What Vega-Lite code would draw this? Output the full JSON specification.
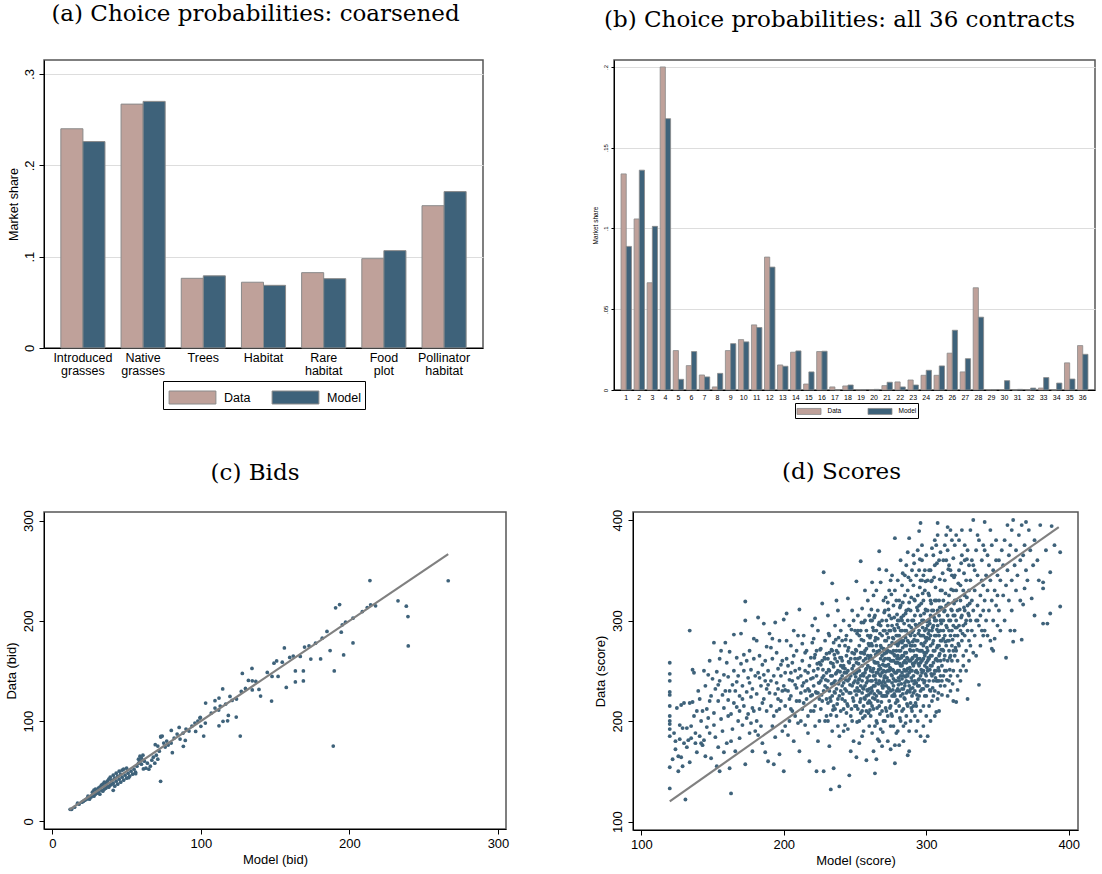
{
"$schema": "https://vega.github.io/schema/vega-lite/v6.json",
"background": "white",
"padding": {"left": 4, "top": 2, "right": 0, "bottom": 0},
"config": {
 "font": "Liberation Sans",
 "view": {"stroke": "#555555", "strokeWidth": 1.5},
 "title": {"font": "DejaVu Serif", "fontSize": 23, "fontWeight": "normal", "color": "#000000", "anchor": "middle", "frame": "group"},
 "axis": {"labelFont": "Liberation Sans", "titleFont": "Liberation Sans", "labelColor": "#000000", "titleColor": "#000000", "titleFontWeight": "normal", "domainColor": "#000000", "tickColor": "#000000", "gridColor": "#dddddd", "labelFlush": false, "labelOverlap": false},
 "legend": {"labelFont": "Liberation Sans", "labelColor": "#000000"}
},
"datasets": {
 "scores": [
{"m":120,"d":258},{"m":120,"d":247},{"m":120,"d":229},{"m":120,"d":226},{"m":120,"d":205},{"m":120,"d":200},{"m":120,"d":197},{"m":120,"d":192},{"m":120,"d":185},{"m":120,"d":154},{"m":120,"d":133},{"m":120,"d":215},{"m":120,"d":240},
{"m":122,"d":162},{"m":124,"d":180},{"m":125,"d":213},{"m":126,"d":150},{"m":126,"d":165},{"m":127,"d":182},{"m":128,"d":216},{"m":128,"d":164},{"m":129,"d":155},{"m":129,"d":193},{"m":130,"d":218},{"m":130,"d":178},{"m":127,"d":196},{"m":124,"d":172},{"m":123,"d":188},
{"m":131,"d":122},{"m":132,"d":193},{"m":133,"d":181},{"m":134,"d":290},{"m":134,"d":159},{"m":134,"d":218},{"m":135,"d":183},{"m":135,"d":195},{"m":136,"d":219},{"m":136,"d":251},{"m":137,"d":248},{"m":137,"d":205},{"m":138,"d":178},{"m":139,"d":169},{"m":139,"d":210},{"m":132,"d":174},{"m":138,"d":188},{"m":140,"d":230},
{"m":141,"d":185},{"m":142,"d":200},{"m":143,"d":176},{"m":144,"d":181},{"m":145,"d":235},{"m":145,"d":165},{"m":146,"d":194},{"m":146,"d":212},{"m":147,"d":203},{"m":147,"d":246},{"m":148,"d":260},{"m":148,"d":188},{"m":149,"d":163},{"m":149,"d":225},{"m":150,"d":242},{"m":141,"d":222},{"m":143,"d":210},{"m":144,"d":250},{"m":148,"d":220},{"m":142,"d":178},
{"m":151,"d":278},{"m":151,"d":208},{"m":152,"d":232},{"m":152,"d":184},{"m":153,"d":155},{"m":153,"d":249},{"m":154,"d":174},{"m":154,"d":220},{"m":155,"d":150},{"m":155,"d":240},{"m":156,"d":270},{"m":156,"d":202},{"m":157,"d":226},{"m":157,"d":190},{"m":158,"d":246},{"m":158,"d":213},{"m":159,"d":278},{"m":159,"d":230},{"m":160,"d":258},{"m":160,"d":178},{"m":151,"d":196},{"m":155,"d":262},{"m":158,"d":169},{"m":154,"d":236},
{"m":161,"d":221},{"m":161,"d":244},{"m":162,"d":153},{"m":162,"d":269},{"m":163,"d":128},{"m":163,"d":207},{"m":164,"d":236},{"m":164,"d":192},{"m":165,"d":250},{"m":165,"d":286},{"m":166,"d":230},{"m":166,"d":170},{"m":167,"d":214},{"m":167,"d":263},{"m":168,"d":200},{"m":168,"d":245},{"m":169,"d":225},{"m":169,"d":183},{"m":170,"d":287},{"m":170,"d":257},{"m":161,"d":205},{"m":163,"d":180},{"m":165,"d":218},{"m":167,"d":239},{"m":169,"d":210},{"m":162,"d":230},
{"m":171,"d":235},{"m":171,"d":196},{"m":172,"d":250},{"m":172,"d":215},{"m":173,"d":319},{"m":173,"d":157},{"m":173,"d":300},{"m":174,"d":229},{"m":174,"d":260},{"m":175,"d":207},{"m":175,"d":243},{"m":176,"d":188},{"m":176,"d":270},{"m":177,"d":224},{"m":177,"d":251},{"m":178,"d":170},{"m":178,"d":232},{"m":179,"d":210},{"m":179,"d":262},{"m":180,"d":245},{"m":180,"d":190},{"m":171,"d":222},{"m":174,"d":203},{"m":176,"d":238},{"m":178,"d":213},{"m":179,"d":282},{"m":177,"d":198},{"m":172,"d":266},
{"m":181,"d":280},{"m":181,"d":227},{"m":182,"d":303},{"m":182,"d":248},{"m":183,"d":212},{"m":183,"d":265},{"m":184,"d":235},{"m":184,"d":195},{"m":185,"d":256},{"m":185,"d":178},{"m":186,"d":297},{"m":186,"d":222},{"m":187,"d":169},{"m":187,"d":240},{"m":188,"d":210},{"m":188,"d":274},{"m":189,"d":160},{"m":189,"d":250},{"m":190,"d":228},{"m":190,"d":287},{"m":181,"d":200},{"m":183,"d":243},{"m":185,"d":218},{"m":187,"d":260},{"m":189,"d":236},{"m":182,"d":186},{"m":186,"d":246},{"m":188,"d":232},
{"m":191,"d":240},{"m":191,"d":215},{"m":192,"d":262},{"m":192,"d":195},{"m":193,"d":157},{"m":193,"d":245},{"m":194,"d":298},{"m":194,"d":227},{"m":195,"d":210},{"m":195,"d":268},{"m":196,"d":232},{"m":196,"d":252},{"m":197,"d":167},{"m":197,"d":280},{"m":198,"d":220},{"m":198,"d":245},{"m":199,"d":190},{"m":199,"d":260},{"m":200,"d":150},{"m":200,"d":235},{"m":200,"d":301},{"m":191,"d":273},{"m":193,"d":205},{"m":195,"d":238},{"m":197,"d":212},{"m":199,"d":230},{"m":192,"d":282},{"m":196,"d":222},{"m":194,"d":184},{"m":198,"d":256},
{"m":201,"d":248},{"m":201,"d":215},{"m":202,"d":307},{"m":202,"d":262},{"m":203,"d":186},{"m":203,"d":230},{"m":204,"d":241},{"m":204,"d":200},{"m":205,"d":275},{"m":205,"d":225},{"m":206,"d":258},{"m":206,"d":210},{"m":207,"d":290},{"m":207,"d":180},{"m":208,"d":236},{"m":208,"d":250},{"m":209,"d":220},{"m":209,"d":270},{"m":210,"d":243},{"m":210,"d":198},{"m":201,"d":231},{"m":203,"d":255},{"m":205,"d":212},{"m":207,"d":265},{"m":209,"d":233},{"m":202,"d":280},{"m":204,"d":222},{"m":206,"d":240},{"m":208,"d":205},{"m":210,"d":285},{"m":201,"d":195},{"m":205,"d":248},
{"m":211,"d":170},{"m":211,"d":311},{"m":212,"d":245},{"m":212,"d":228},{"m":213,"d":260},{"m":213,"d":212},{"m":214,"d":285},{"m":214,"d":238},{"m":215,"d":250},{"m":215,"d":196},{"m":216,"d":270},{"m":216,"d":222},{"m":217,"d":232},{"m":217,"d":188},{"m":218,"d":160},{"m":218,"d":255},{"m":219,"d":242},{"m":219,"d":210},{"m":220,"d":278},{"m":220,"d":226},{"m":211,"d":252},{"m":213,"d":235},{"m":215,"d":268},{"m":217,"d":248},{"m":219,"d":263},{"m":212,"d":200},{"m":214,"d":218},{"m":216,"d":240},{"m":218,"d":230},{"m":220,"d":295},{"m":211,"d":220},{"m":213,"d":277},{"m":215,"d":230},{"m":217,"d":205},{"m":219,"d":225},
{"m":221,"d":250},{"m":221,"d":235},{"m":222,"d":266},{"m":222,"d":215},{"m":223,"d":150},{"m":223,"d":245},{"m":224,"d":290},{"m":224,"d":228},{"m":225,"d":200},{"m":225,"d":258},{"m":226,"d":240},{"m":226,"d":272},{"m":227,"d":317},{"m":227,"d":220},{"m":228,"d":348},{"m":228,"d":150},{"m":229,"d":262},{"m":229,"d":235},{"m":230,"d":248},{"m":230,"d":205},{"m":221,"d":282},{"m":222,"d":195},{"m":223,"d":228},{"m":224,"d":252},{"m":225,"d":238},{"m":226,"d":212},{"m":227,"d":260},{"m":228,"d":230},{"m":229,"d":280},{"m":230,"d":222},{"m":221,"d":210},{"m":223,"d":270},{"m":225,"d":222},{"m":227,"d":243},{"m":229,"d":200},{"m":222,"d":302},{"m":224,"d":180},{"m":226,"d":256},{"m":228,"d":245},{"m":230,"d":267},
{"m":231,"d":240},{"m":231,"d":262},{"m":231,"d":218},{"m":232,"d":250},{"m":232,"d":230},{"m":232,"d":285},{"m":233,"d":206},{"m":233,"d":245},{"m":233,"d":132},{"m":234,"d":337},{"m":234,"d":270},{"m":234,"d":225},{"m":235,"d":254},{"m":235,"d":153},{"m":235,"d":238},{"m":236,"d":212},{"m":236,"d":262},{"m":236,"d":295},{"m":237,"d":320},{"m":237,"d":232},{"m":237,"d":248},{"m":238,"d":195},{"m":238,"d":268},{"m":238,"d":222},{"m":239,"d":135},{"m":239,"d":240},{"m":239,"d":275},{"m":240,"d":255},{"m":240,"d":210},{"m":240,"d":230},{"m":231,"d":200},{"m":232,"d":268},{"m":233,"d":258},{"m":234,"d":190},{"m":235,"d":278},{"m":236,"d":240},{"m":237,"d":205},{"m":238,"d":250},{"m":239,"d":225},{"m":240,"d":290},{"m":231,"d":305},{"m":233,"d":220},{"m":235,"d":215},{"m":237,"d":270},{"m":239,"d":185},{"m":232,"d":175},{"m":234,"d":245},{"m":236,"d":228},{"m":238,"d":310},{"m":240,"d":242},
{"m":241,"d":260},{"m":241,"d":222},{"m":241,"d":245},{"m":242,"d":300},{"m":242,"d":238},{"m":242,"d":212},{"m":243,"d":252},{"m":243,"d":275},{"m":243,"d":196},{"m":244,"d":230},{"m":244,"d":265},{"m":244,"d":248},{"m":245,"d":215},{"m":245,"d":322},{"m":245,"d":240},{"m":246,"d":146},{"m":246,"d":258},{"m":246,"d":228},{"m":247,"d":280},{"m":247,"d":205},{"m":247,"d":245},{"m":248,"d":235},{"m":248,"d":268},{"m":248,"d":310},{"m":249,"d":220},{"m":249,"d":255},{"m":249,"d":180},{"m":250,"d":240},{"m":250,"d":290},{"m":250,"d":262},{"m":241,"d":280},{"m":242,"d":190},{"m":243,"d":232},{"m":244,"d":208},{"m":245,"d":270},{"m":246,"d":295},{"m":247,"d":228},{"m":248,"d":252},{"m":249,"d":238},{"m":250,"d":215},{"m":241,"d":235},{"m":243,"d":220},{"m":245,"d":250},{"m":247,"d":262},{"m":249,"d":300},{"m":242,"d":255},{"m":244,"d":285},{"m":246,"d":242},{"m":248,"d":200},{"m":250,"d":230},{"m":245,"d":192},{"m":247,"d":170},
{"m":251,"d":164},{"m":251,"d":339},{"m":251,"d":248},{"m":251,"d":226},{"m":252,"d":262},{"m":252,"d":238},{"m":252,"d":290},{"m":252,"d":212},{"m":253,"d":275},{"m":253,"d":250},{"m":253,"d":230},{"m":253,"d":200},{"m":254,"d":359},{"m":254,"d":245},{"m":254,"d":268},{"m":254,"d":222},{"m":255,"d":312},{"m":255,"d":240},{"m":255,"d":255},{"m":255,"d":185},{"m":256,"d":280},{"m":256,"d":232},{"m":256,"d":260},{"m":256,"d":215},{"m":257,"d":300},{"m":257,"d":248},{"m":257,"d":270},{"m":257,"d":205},{"m":258,"d":161},{"m":258,"d":238},{"m":258,"d":290},{"m":258,"d":225},{"m":259,"d":255},{"m":259,"d":265},{"m":259,"d":218},{"m":259,"d":320},{"m":260,"d":245},{"m":260,"d":275},{"m":260,"d":232},{"m":260,"d":195},{"m":251,"d":270},{"m":252,"d":230},{"m":253,"d":285},{"m":254,"d":208},{"m":255,"d":228},{"m":256,"d":298},{"m":257,"d":235},{"m":258,"d":252},{"m":259,"d":240},{"m":260,"d":262},{"m":251,"d":215},{"m":252,"d":250},{"m":253,"d":242},{"m":254,"d":290},{"m":255,"d":268},{"m":256,"d":245},{"m":257,"d":222},{"m":258,"d":272},{"m":259,"d":230},{"m":260,"d":305},{"m":253,"d":178},{"m":255,"d":210},{"m":257,"d":330},{"m":259,"d":285},{"m":252,"d":305},{"m":254,"d":235},{"m":256,"d":190},{"m":258,"d":210},{"m":260,"d":220},{"m":251,"d":258},
{"m":261,"d":250},{"m":261,"d":285},{"m":261,"d":228},{"m":261,"d":205},{"m":262,"d":262},{"m":262,"d":240},{"m":262,"d":300},{"m":262,"d":215},{"m":263,"d":270},{"m":263,"d":252},{"m":263,"d":235},{"m":263,"d":325},{"m":264,"d":148},{"m":264,"d":245},{"m":264,"d":280},{"m":264,"d":222},{"m":265,"d":258},{"m":265,"d":290},{"m":265,"d":238},{"m":265,"d":200},{"m":266,"d":268},{"m":266,"d":248},{"m":266,"d":310},{"m":266,"d":230},{"m":267,"d":369},{"m":267,"d":351},{"m":267,"d":255},{"m":267,"d":240},{"m":267,"d":215},{"m":268,"d":275},{"m":268,"d":262},{"m":268,"d":228},{"m":268,"d":295},{"m":269,"d":248},{"m":269,"d":235},{"m":269,"d":285},{"m":269,"d":210},{"m":270,"d":260},{"m":270,"d":240},{"m":270,"d":320},{"m":270,"d":225},{"m":270,"d":272},{"m":261,"d":240},{"m":262,"d":275},{"m":263,"d":212},{"m":264,"d":258},{"m":265,"d":248},{"m":266,"d":282},{"m":267,"d":228},{"m":268,"d":245},{"m":269,"d":265},{"m":270,"d":290},{"m":261,"d":265},{"m":262,"d":230},{"m":263,"d":290},{"m":264,"d":235},{"m":265,"d":275},{"m":266,"d":220},{"m":267,"d":298},{"m":268,"d":252},{"m":269,"d":225},{"m":270,"d":250},{"m":261,"d":300},{"m":263,"d":245},{"m":265,"d":225},{"m":267,"d":270},{"m":269,"d":300},{"m":262,"d":188},{"m":264,"d":195},{"m":266,"d":182},{"m":268,"d":192},{"m":270,"d":200},{"m":263,"d":170},{"m":265,"d":162},{"m":267,"d":180},{"m":269,"d":175},{"m":261,"d":218},{"m":264,"d":305},{"m":266,"d":258},{"m":268,"d":338},{"m":270,"d":235},{"m":262,"d":338},{"m":265,"d":330},
{"m":271,"d":280},{"m":271,"d":245},{"m":271,"d":225},{"m":271,"d":262},{"m":272,"d":300},{"m":272,"d":255},{"m":272,"d":235},{"m":272,"d":210},{"m":273,"d":270},{"m":273,"d":250},{"m":273,"d":180},{"m":273,"d":318},{"m":274,"d":290},{"m":274,"d":240},{"m":274,"d":262},{"m":274,"d":220},{"m":275,"d":230},{"m":275,"d":275},{"m":275,"d":252},{"m":275,"d":340},{"m":276,"d":260},{"m":276,"d":245},{"m":276,"d":295},{"m":276,"d":205},{"m":277,"d":270},{"m":277,"d":235},{"m":277,"d":315},{"m":277,"d":250},{"m":278,"d":158},{"m":278,"d":265},{"m":278,"d":382},{"m":278,"d":225},{"m":279,"d":285},{"m":279,"d":240},{"m":279,"d":258},{"m":279,"d":210},{"m":280,"d":275},{"m":280,"d":250},{"m":280,"d":300},{"m":280,"d":232},{"m":271,"d":290},{"m":272,"d":268},{"m":273,"d":228},{"m":274,"d":305},{"m":275,"d":260},{"m":276,"d":238},{"m":277,"d":282},{"m":278,"d":248},{"m":279,"d":270},{"m":280,"d":220},{"m":271,"d":238},{"m":272,"d":280},{"m":273,"d":262},{"m":274,"d":250},{"m":275,"d":215},{"m":276,"d":278},{"m":277,"d":260},{"m":278,"d":290},{"m":279,"d":230},{"m":280,"d":265},{"m":271,"d":310},{"m":273,"d":295},{"m":275,"d":290},{"m":277,"d":225},{"m":279,"d":320},{"m":272,"d":225},{"m":274,"d":275},{"m":276,"d":225},{"m":278,"d":240},{"m":280,"d":285},{"m":271,"d":200},{"m":273,"d":205},{"m":275,"d":195},{"m":277,"d":195},{"m":279,"d":188},{"m":274,"d":330},{"m":276,"d":345},{"m":278,"d":330},{"m":280,"d":340},{"m":272,"d":350},{"m":275,"d":172},{"m":278,"d":176},{"m":280,"d":190},{"m":271,"d":255},{"m":273,"d":240},{"m":276,"d":268},{"m":279,"d":248},{"m":274,"d":232},{"m":277,"d":242},{"m":280,"d":258},
{"m":281,"d":176},{"m":281,"d":262},{"m":281,"d":240},{"m":281,"d":285},{"m":281,"d":300},{"m":282,"d":255},{"m":282,"d":225},{"m":282,"d":270},{"m":282,"d":315},{"m":283,"d":248},{"m":283,"d":290},{"m":283,"d":232},{"m":283,"d":265},{"m":284,"d":280},{"m":284,"d":245},{"m":284,"d":305},{"m":284,"d":212},{"m":285,"d":260},{"m":285,"d":238},{"m":285,"d":275},{"m":285,"d":325},{"m":286,"d":250},{"m":286,"d":290},{"m":286,"d":228},{"m":286,"d":268},{"m":287,"d":166},{"m":287,"d":280},{"m":287,"d":245},{"m":287,"d":300},{"m":287,"d":368},{"m":288,"d":382},{"m":288,"d":260},{"m":288,"d":235},{"m":288,"d":318},{"m":289,"d":270},{"m":289,"d":250},{"m":289,"d":285},{"m":289,"d":218},{"m":290,"d":262},{"m":290,"d":240},{"m":290,"d":300},{"m":290,"d":275},{"m":281,"d":270},{"m":282,"d":290},{"m":283,"d":210},{"m":284,"d":258},{"m":285,"d":290},{"m":286,"d":240},{"m":287,"d":262},{"m":288,"d":278},{"m":289,"d":232},{"m":290,"d":250},{"m":281,"d":230},{"m":282,"d":245},{"m":283,"d":278},{"m":284,"d":265},{"m":285,"d":250},{"m":286,"d":310},{"m":287,"d":230},{"m":288,"d":295},{"m":289,"d":260},{"m":290,"d":225},{"m":281,"d":320},{"m":283,"d":335},{"m":285,"d":345},{"m":287,"d":330},{"m":289,"d":340},{"m":282,"d":200},{"m":284,"d":195},{"m":286,"d":205},{"m":288,"d":190},{"m":290,"d":210},{"m":281,"d":215},{"m":283,"d":255},{"m":285,"d":222},{"m":287,"d":252},{"m":289,"d":310},{"m":282,"d":280},{"m":284,"d":232},{"m":286,"d":275},{"m":288,"d":248},{"m":290,"d":288},{"m":281,"d":250},{"m":283,"d":300},{"m":285,"d":268},{"m":287,"d":215},{"m":289,"d":200},{"m":282,"d":360},{"m":286,"d":355},{"m":290,"d":350},{"m":284,"d":180},{"m":288,"d":170},{"m":283,"d":242},{"m":286,"d":258},{"m":289,"d":275},{"m":285,"d":235},
{"m":291,"d":270},{"m":291,"d":245},{"m":291,"d":300},{"m":291,"d":228},{"m":292,"d":285},{"m":292,"d":258},{"m":292,"d":240},{"m":292,"d":320},{"m":293,"d":265},{"m":293,"d":250},{"m":293,"d":215},{"m":293,"d":295},{"m":294,"d":280},{"m":294,"d":235},{"m":294,"d":262},{"m":294,"d":310},{"m":295,"d":389},{"m":295,"d":255},{"m":295,"d":290},{"m":295,"d":225},{"m":296,"d":397},{"m":296,"d":270},{"m":296,"d":245},{"m":296,"d":305},{"m":297,"d":260},{"m":297,"d":285},{"m":297,"d":232},{"m":297,"d":340},{"m":298,"d":275},{"m":298,"d":250},{"m":298,"d":300},{"m":298,"d":215},{"m":299,"d":265},{"m":299,"d":240},{"m":299,"d":290},{"m":299,"d":330},{"m":300,"d":258},{"m":300,"d":280},{"m":300,"d":235},{"m":300,"d":310},{"m":291,"d":255},{"m":292,"d":275},{"m":293,"d":280},{"m":294,"d":248},{"m":295,"d":270},{"m":296,"d":285},{"m":297,"d":248},{"m":298,"d":262},{"m":299,"d":278},{"m":300,"d":268},{"m":291,"d":290},{"m":292,"d":230},{"m":293,"d":238},{"m":294,"d":295},{"m":295,"d":242},{"m":296,"d":258},{"m":297,"d":300},{"m":298,"d":232},{"m":299,"d":255},{"m":300,"d":292},{"m":291,"d":335},{"m":293,"d":345},{"m":295,"d":350},{"m":297,"d":360},{"m":299,"d":350},{"m":292,"d":205},{"m":294,"d":200},{"m":296,"d":210},{"m":298,"d":195},{"m":300,"d":205},{"m":291,"d":215},{"m":293,"d":260},{"m":295,"d":315},{"m":297,"d":270},{"m":299,"d":225},{"m":292,"d":305},{"m":294,"d":222},{"m":296,"d":230},{"m":298,"d":320},{"m":300,"d":245},{"m":291,"d":365},{"m":294,"d":370},{"m":297,"d":375},{"m":300,"d":365},{"m":293,"d":190},{"m":296,"d":185},{"m":299,"d":180},{"m":292,"d":265},{"m":295,"d":235},{"m":298,"d":285},{"m":300,"d":225},{"m":294,"d":325},{"m":296,"d":340},{"m":298,"d":345},
{"m":301,"d":185},{"m":301,"d":270},{"m":301,"d":250},{"m":301,"d":295},{"m":302,"d":282},{"m":302,"d":262},{"m":302,"d":240},{"m":302,"d":325},{"m":303,"d":275},{"m":303,"d":255},{"m":303,"d":305},{"m":303,"d":230},{"m":304,"d":290},{"m":304,"d":265},{"m":304,"d":245},{"m":304,"d":340},{"m":305,"d":280},{"m":305,"d":258},{"m":305,"d":310},{"m":305,"d":225},{"m":306,"d":270},{"m":306,"d":300},{"m":306,"d":250},{"m":306,"d":355},{"m":307,"d":209},{"m":307,"d":285},{"m":307,"d":262},{"m":307,"d":320},{"m":308,"d":397},{"m":308,"d":275},{"m":308,"d":295},{"m":308,"d":240},{"m":309,"d":265},{"m":309,"d":305},{"m":309,"d":285},{"m":309,"d":250},{"m":310,"d":280},{"m":310,"d":260},{"m":310,"d":330},{"m":310,"d":300},{"m":301,"d":310},{"m":302,"d":290},{"m":303,"d":285},{"m":304,"d":255},{"m":305,"d":295},{"m":306,"d":285},{"m":307,"d":240},{"m":308,"d":310},{"m":309,"d":275},{"m":310,"d":245},{"m":301,"d":340},{"m":303,"d":350},{"m":305,"d":365},{"m":307,"d":375},{"m":309,"d":360},{"m":302,"d":215},{"m":304,"d":220},{"m":306,"d":230},{"m":308,"d":222},{"m":310,"d":235},{"m":301,"d":235},{"m":303,"d":320},{"m":305,"d":240},{"m":307,"d":300},{"m":309,"d":320},{"m":302,"d":350},{"m":304,"d":372},{"m":306,"d":380},{"m":308,"d":385},{"m":310,"d":368},{"m":301,"d":260},{"m":303,"d":265},{"m":305,"d":270},{"m":307,"d":250},{"m":309,"d":240},{"m":302,"d":300},{"m":304,"d":310},{"m":306,"d":320},{"m":308,"d":260},{"m":310,"d":290},{"m":303,"d":200},{"m":306,"d":205},{"m":309,"d":210},
{"m":311,"d":226},{"m":311,"d":280},{"m":311,"d":300},{"m":311,"d":255},{"m":312,"d":290},{"m":312,"d":270},{"m":312,"d":320},{"m":312,"d":245},{"m":313,"d":310},{"m":313,"d":265},{"m":313,"d":285},{"m":313,"d":340},{"m":314,"d":295},{"m":314,"d":275},{"m":314,"d":250},{"m":314,"d":360},{"m":315,"d":393},{"m":315,"d":305},{"m":315,"d":280},{"m":315,"d":260},{"m":316,"d":290},{"m":316,"d":325},{"m":316,"d":240},{"m":316,"d":270},{"m":317,"d":300},{"m":317,"d":285},{"m":317,"d":350},{"m":317,"d":230},{"m":318,"d":275},{"m":318,"d":310},{"m":318,"d":260},{"m":318,"d":380},{"m":319,"d":295},{"m":319,"d":270},{"m":319,"d":330},{"m":319,"d":250},{"m":320,"d":285},{"m":320,"d":305},{"m":320,"d":265},{"m":320,"d":345},{"m":311,"d":330},{"m":312,"d":360},{"m":313,"d":375},{"m":314,"d":385},{"m":315,"d":370},{"m":316,"d":355},{"m":317,"d":390},{"m":318,"d":345},{"m":319,"d":362},{"m":320,"d":375},{"m":311,"d":240},{"m":313,"d":235},{"m":315,"d":225},{"m":317,"d":245},{"m":319,"d":220},{"m":312,"d":300},{"m":314,"d":315},{"m":316,"d":300},{"m":318,"d":290},{"m":320,"d":320},{"m":321,"d":219},{"m":322,"d":231},{"m":313,"d":250},{"m":317,"d":265},{"m":312,"d":282},{"m":316,"d":280},{"m":319,"d":305},
{"m":321,"d":300},{"m":321,"d":270},{"m":321,"d":330},{"m":322,"d":285},{"m":322,"d":310},{"m":322,"d":260},{"m":323,"d":295},{"m":323,"d":350},{"m":323,"d":275},{"m":324,"d":320},{"m":324,"d":290},{"m":324,"d":250},{"m":325,"d":305},{"m":325,"d":365},{"m":325,"d":280},{"m":326,"d":295},{"m":326,"d":330},{"m":326,"d":265},{"m":327,"d":310},{"m":327,"d":285},{"m":327,"d":375},{"m":328,"d":300},{"m":328,"d":340},{"m":328,"d":270},{"m":329,"d":222},{"m":329,"d":290},{"m":329,"d":315},{"m":330,"d":305},{"m":330,"d":355},{"m":330,"d":280},{"m":321,"d":385},{"m":323,"d":380},{"m":325,"d":390},{"m":327,"d":360},{"m":329,"d":370},{"m":322,"d":245},{"m":324,"d":240},{"m":326,"d":255},{"m":328,"d":250},{"m":330,"d":260},{"m":321,"d":320},{"m":324,"d":335},{"m":327,"d":325},{"m":330,"d":330},
{"m":331,"d":300},{"m":331,"d":340},{"m":331,"d":275},{"m":332,"d":320},{"m":332,"d":290},{"m":333,"d":400},{"m":333,"d":355},{"m":333,"d":310},{"m":334,"d":330},{"m":334,"d":285},{"m":335,"d":300},{"m":335,"d":370},{"m":335,"d":265},{"m":336,"d":315},{"m":336,"d":345},{"m":337,"d":236},{"m":337,"d":295},{"m":337,"d":380},{"m":338,"d":325},{"m":338,"d":305},{"m":339,"d":360},{"m":339,"d":290},{"m":340,"d":335},{"m":340,"d":310},{"m":340,"d":375},{"m":331,"d":390},{"m":333,"d":268},{"m":336,"d":385},{"m":338,"d":275},{"m":340,"d":285},{"m":332,"d":360},{"m":334,"d":350},{"m":336,"d":300},{"m":339,"d":340},
{"m":341,"d":398},{"m":341,"d":320},{"m":341,"d":290},{"m":342,"d":345},{"m":342,"d":300},{"m":343,"d":365},{"m":343,"d":330},{"m":344,"d":310},{"m":344,"d":355},{"m":345,"d":280},{"m":345,"d":340},{"m":346,"d":272},{"m":346,"d":320},{"m":346,"d":375},{"m":347,"d":300},{"m":347,"d":350},{"m":348,"d":282},{"m":348,"d":330},{"m":349,"d":360},{"m":349,"d":315},{"m":350,"d":295},{"m":350,"d":345},{"m":341,"d":370},{"m":343,"d":285},{"m":345,"d":390},{"m":347,"d":270},{"m":349,"d":380},{"m":350,"d":325},
{"m":351,"d":360},{"m":351,"d":310},{"m":352,"d":340},{"m":352,"d":290},{"m":353,"d":370},{"m":354,"d":325},{"m":354,"d":355},{"m":355,"d":300},{"m":355,"d":380},{"m":356,"d":263},{"m":356,"d":335},{"m":357,"d":395},{"m":357,"d":350},{"m":358,"d":320},{"m":358,"d":365},{"m":359,"d":290},{"m":359,"d":375},{"m":360,"d":340},{"m":360,"d":310},{"m":360,"d":390},
{"m":361,"d":400},{"m":361,"d":279},{"m":362,"d":290},{"m":362,"d":355},{"m":363,"d":370},{"m":363,"d":330},{"m":364,"d":345},{"m":365,"d":385},{"m":366,"d":360},{"m":366,"d":320},{"m":367,"d":281},{"m":367,"d":395},{"m":368,"d":316},{"m":368,"d":365},{"m":369,"d":332},{"m":369,"d":375},{"m":370,"d":398},{"m":370,"d":350},
{"m":371,"d":340},{"m":372,"d":390},{"m":373,"d":370},{"m":374,"d":322},{"m":376,"d":305},{"m":376,"d":380},{"m":378,"d":360},{"m":380,"d":395},{"m":382,"d":338},{"m":382,"d":332},{"m":382,"d":297},{"m":384,"d":370},{"m":385,"d":297},{"m":387,"d":307},{"m":387,"d":348},{"m":388,"d":394},{"m":390,"d":375},{"m":394,"d":368},{"m":394,"d":314},{"m":379,"d":340},{"m":375,"d":355},
{"m":240.5,"d":263},{"m":241.5,"d":227},{"m":242.5,"d":248},{"m":243.5,"d":281},{"m":244.5,"d":217},{"m":245.5,"d":259},{"m":246.5,"d":236},{"m":247.5,"d":291},{"m":248.5,"d":223},{"m":249.5,"d":267},{"m":250.5,"d":244},{"m":241.5,"d":253},{"m":243.5,"d":241},{"m":245.5,"d":273},{"m":247.5,"d":212},{"m":249.5,"d":247},
{"m":250.5,"d":271},{"m":251.5,"d":233},{"m":252.5,"d":257},{"m":253.5,"d":219},{"m":254.5,"d":281},{"m":255.5,"d":247},{"m":256.5,"d":223},{"m":257.5,"d":262},{"m":258.5,"d":243},{"m":259.5,"d":277},{"m":260.5,"d":211},{"m":251.5,"d":287},{"m":253.5,"d":263},{"m":255.5,"d":233},{"m":257.5,"d":251},{"m":259.5,"d":226},{"m":252.5,"d":241},{"m":254.5,"d":298},{"m":256.5,"d":267},{"m":258.5,"d":231},{"m":260.5,"d":283},{"m":251.5,"d":199},{"m":255.5,"d":203},{"m":259.5,"d":208},
{"m":260.5,"d":253},{"m":261.5,"d":277},{"m":262.5,"d":223},{"m":263.5,"d":259},{"m":264.5,"d":241},{"m":265.5,"d":269},{"m":266.5,"d":237},{"m":267.5,"d":287},{"m":268.5,"d":219},{"m":269.5,"d":256},{"m":270.5,"d":243},{"m":261.5,"d":233},{"m":262.5,"d":293},{"m":263.5,"d":227},{"m":264.5,"d":266},{"m":265.5,"d":213},{"m":266.5,"d":251},{"m":267.5,"d":246},{"m":268.5,"d":273},{"m":269.5,"d":233},{"m":270.5,"d":308},{"m":261.5,"d":311},{"m":263.5,"d":303},{"m":265.5,"d":198},{"m":267.5,"d":207},{"m":269.5,"d":189},{"m":262.5,"d":249},{"m":264.5,"d":283},{"m":266.5,"d":296},{"m":268.5,"d":238},
{"m":270.5,"d":267},{"m":271.5,"d":249},{"m":272.5,"d":287},{"m":273.5,"d":233},{"m":274.5,"d":269},{"m":275.5,"d":246},{"m":276.5,"d":283},{"m":277.5,"d":227},{"m":278.5,"d":258},{"m":279.5,"d":296},{"m":280.5,"d":243},{"m":271.5,"d":271},{"m":272.5,"d":229},{"m":273.5,"d":256},{"m":274.5,"d":213},{"m":275.5,"d":302},{"m":276.5,"d":251},{"m":277.5,"d":266},{"m":278.5,"d":218},{"m":279.5,"d":262},{"m":280.5,"d":277},{"m":271.5,"d":323},{"m":273.5,"d":311},{"m":275.5,"d":326},{"m":277.5,"d":303},{"m":279.5,"d":306},{"m":272.5,"d":243},{"m":274.5,"d":253},{"m":276.5,"d":231},{"m":278.5,"d":277},{"m":280.5,"d":236},{"m":271.5,"d":213},{"m":275.5,"d":207},{"m":279.5,"d":221},{"m":273.5,"d":283},{"m":277.5,"d":292},
{"m":280.5,"d":293},{"m":281.5,"d":257},{"m":282.5,"d":237},{"m":283.5,"d":273},{"m":284.5,"d":251},{"m":285.5,"d":283},{"m":286.5,"d":263},{"m":287.5,"d":239},{"m":288.5,"d":271},{"m":289.5,"d":293},{"m":290.5,"d":257},{"m":281.5,"d":279},{"m":282.5,"d":303},{"m":283.5,"d":227},{"m":284.5,"d":297},{"m":285.5,"d":244},{"m":286.5,"d":217},{"m":287.5,"d":287},{"m":288.5,"d":253},{"m":289.5,"d":243},{"m":290.5,"d":279},{"m":281.5,"d":313},{"m":283.5,"d":318},{"m":285.5,"d":307},{"m":287.5,"d":311},{"m":289.5,"d":323},{"m":282.5,"d":263},{"m":284.5,"d":223},{"m":286.5,"d":246},{"m":288.5,"d":229},{"m":290.5,"d":233},{"m":281.5,"d":203},{"m":285.5,"d":198},{"m":289.5,"d":213},{"m":283.5,"d":347},{"m":287.5,"d":343},
{"m":290.5,"d":263},{"m":291.5,"d":281},{"m":292.5,"d":249},{"m":293.5,"d":271},{"m":294.5,"d":257},{"m":295.5,"d":297},{"m":296.5,"d":277},{"m":297.5,"d":241},{"m":298.5,"d":268},{"m":299.5,"d":283},{"m":300.5,"d":253},{"m":291.5,"d":237},{"m":292.5,"d":296},{"m":293.5,"d":226},{"m":294.5,"d":287},{"m":295.5,"d":262},{"m":296.5,"d":317},{"m":297.5,"d":293},{"m":298.5,"d":307},{"m":299.5,"d":247},{"m":300.5,"d":299},{"m":291.5,"d":321},{"m":293.5,"d":313},{"m":295.5,"d":333},{"m":297.5,"d":327},{"m":299.5,"d":311},{"m":292.5,"d":218},{"m":294.5,"d":241},{"m":296.5,"d":251},{"m":298.5,"d":238},{"m":300.5,"d":273},{"m":291.5,"d":357},{"m":295.5,"d":361},{"m":299.5,"d":339},
{"m":300.5,"d":283},{"m":301.5,"d":263},{"m":302.5,"d":297},{"m":303.5,"d":247},{"m":304.5,"d":277},{"m":305.5,"d":303},{"m":306.5,"d":261},{"m":307.5,"d":291},{"m":308.5,"d":253},{"m":309.5,"d":313},{"m":310.5,"d":271},{"m":301.5,"d":287},{"m":302.5,"d":251},{"m":303.5,"d":317},{"m":304.5,"d":293},{"m":305.5,"d":247},{"m":306.5,"d":333},{"m":307.5,"d":273},{"m":308.5,"d":289},{"m":309.5,"d":267},{"m":310.5,"d":313},{"m":301.5,"d":327},{"m":303.5,"d":339},{"m":305.5,"d":343},{"m":307.5,"d":357},{"m":309.5,"d":341},{"m":302.5,"d":231},{"m":304.5,"d":233},{"m":306.5,"d":243},{"m":308.5,"d":228},
{"m":310.5,"d":297},{"m":311.5,"d":271},{"m":312.5,"d":309},{"m":313.5,"d":279},{"m":314.5,"d":293},{"m":315.5,"d":317},{"m":316.5,"d":263},{"m":317.5,"d":311},{"m":318.5,"d":281},{"m":319.5,"d":317},{"m":320.5,"d":293},{"m":311.5,"d":347},{"m":313.5,"d":327},{"m":315.5,"d":351},{"m":317.5,"d":331},{"m":319.5,"d":343},{"m":312.5,"d":261},{"m":314.5,"d":241},{"m":316.5,"d":251},{"m":318.5,"d":237},{"m":320.5,"d":273},
{"m":321.5,"d":293},{"m":322.5,"d":277},{"m":323.5,"d":311},{"m":324.5,"d":303},{"m":325.5,"d":287},{"m":326.5,"d":313},{"m":327.5,"d":297},{"m":328.5,"d":323},{"m":329.5,"d":307},{"m":322.5,"d":337},{"m":324.5,"d":357},{"m":326.5,"d":347},{"m":328.5,"d":361},{"m":330.5,"d":317},
{"m":220.5,"d":243},{"m":221.5,"d":263},{"m":222.5,"d":229},{"m":223.5,"d":257},{"m":224.5,"d":238},{"m":225.5,"d":271},{"m":226.5,"d":226},{"m":227.5,"d":251},{"m":228.5,"d":263},{"m":229.5,"d":241},{"m":230.5,"d":233},{"m":231.5,"d":251},{"m":232.5,"d":223},{"m":233.5,"d":271},{"m":234.5,"d":257},{"m":235.5,"d":229},{"m":236.5,"d":281},{"m":237.5,"d":259},{"m":238.5,"d":237},{"m":239.5,"d":263},{"m":231.5,"d":287},{"m":233.5,"d":237},{"m":235.5,"d":266},{"m":237.5,"d":217},{"m":239.5,"d":249},{"m":234.5,"d":211},{"m":236.5,"d":247},{"m":238.5,"d":283}
 ],
 "bids": [
{"m":12,"d":12},{"m":13,"d":12},{"m":15,"d":14},{"m":17,"d":18},{"m":18,"d":17},{"m":20,"d":19},{"m":21,"d":20},{"m":22,"d":21},{"m":23,"d":22},{"m":24,"d":25},{"m":25,"d":22},{"m":26,"d":24},{"m":27,"d":26},{"m":27,"d":29},{"m":28,"d":25},{"m":28,"d":31},{"m":29,"d":27},{"m":29,"d":32},{"m":30,"d":28},{"m":30,"d":30},{"m":31,"d":33},{"m":31,"d":29},{"m":32,"d":27},{"m":32,"d":34},{"m":33,"d":31},{"m":33,"d":36},{"m":34,"d":30},{"m":34,"d":37},{"m":35,"d":32},{"m":35,"d":39},{"m":36,"d":33},{"m":36,"d":38},{"m":37,"d":35},{"m":37,"d":40},{"m":38,"d":34},{"m":38,"d":42},{"m":39,"d":36},{"m":39,"d":44},{"m":40,"d":37},{"m":40,"d":41},{"m":41,"d":38},{"m":41,"d":46},{"m":42,"d":35},{"m":42,"d":43},{"m":43,"d":40},{"m":43,"d":48},{"m":44,"d":37},{"m":44,"d":45},{"m":45,"d":42},{"m":45,"d":50},{"m":46,"d":39},{"m":46,"d":47},{"m":47,"d":44},{"m":47,"d":51},{"m":48,"d":41},{"m":48,"d":52},{"m":49,"d":46},{"m":50,"d":43},{"m":50,"d":53},{"m":51,"d":48},{"m":52,"d":45},{"m":53,"d":50},{"m":54,"d":47},{"m":55,"d":52},{"m":56,"d":49},{"m":57,"d":55},{"m":58,"d":58},{"m":58,"d":62},{"m":59,"d":60},{"m":59,"d":65},{"m":60,"d":63},{"m":60,"d":57},{"m":61,"d":66},{"m":62,"d":60},{"m":63,"d":53},{"m":64,"d":58},{"m":65,"d":52},{"m":66,"d":55},{"m":67,"d":61},{"m":68,"d":64},{"m":69,"d":58},{"m":70,"d":66},{"m":71,"d":75},{"m":71,"d":62},{"m":72,"d":70},{"m":73,"d":84},{"m":74,"d":85},{"m":75,"d":78},{"m":76,"d":74},{"m":77,"d":80},{"m":78,"d":76},{"m":80,"d":78},{"m":82,"d":83},{"m":84,"d":87},{"m":86,"d":82},{"m":88,"d":88},{"m":90,"d":92},{"m":92,"d":90},{"m":94,"d":95},{"m":96,"d":98},{"m":98,"d":100},
{"m":99.4,"d":103},{"m":103,"d":98},{"m":107,"d":108},{"m":109.5,"d":113},{"m":112,"d":111},{"m":113,"d":115},{"m":116.7,"d":117},{"m":119.6,"d":124.6},{"m":121,"d":120.6},{"m":124,"d":122},{"m":127.2,"d":129.6},{"m":130,"d":132.6},{"m":132,"d":140.5},{"m":137,"d":139.5},{"m":144.7,"d":148.5},{"m":149.2,"d":157.8},{"m":151,"d":160},{"m":154.8,"d":158.8},{"m":159.8,"d":163.5},{"m":162.2,"d":164.8},{"m":166.9,"d":164.5},{"m":169.8,"d":173.8},{"m":172.8,"d":175},{"m":177.2,"d":177.7},{"m":181.7,"d":182.7},{"m":184.9,"d":189.4},{"m":195.2,"d":196},{"m":197.4,"d":198.7},{"m":202.4,"d":202.7},{"m":208.7,"d":209.3},{"m":212,"d":213.3},{"m":214.3,"d":216},{"m":217.6,"d":215},
{"m":213.8,"d":240.2},{"m":266.5,"d":240},{"m":232.7,"d":220},{"m":238.3,"d":214.6},{"m":239.4,"d":204.3},{"m":239.6,"d":175},{"m":190.7,"d":213},{"m":193.4,"d":216.3},{"m":194.5,"d":188.7},{"m":202.4,"d":178},{"m":196.1,"d":166},{"m":187,"d":170.4},{"m":180.6,"d":162},{"m":174,"d":161.8},{"m":189.8,"d":150},{"m":189.1,"d":75},{"m":169,"d":150},{"m":169,"d":140},{"m":163.6,"d":150},{"m":163.6,"d":139},{"m":157.5,"d":133.6},{"m":156.2,"d":173},{"m":152,"d":144.5},{"m":147.9,"d":144.5},{"m":147.6,"d":120},{"m":134.4,"d":152.5},{"m":127.9,"d":147.5},{"m":134.6,"d":140.2},{"m":139.1,"d":131.6},{"m":140.2,"d":125},{"m":123.8,"d":104},{"m":126.5,"d":85},{"m":134.6,"d":131},{"m":114.7,"d":132},{"m":112.2,"d":123},{"m":109.5,"d":120.3},{"m":103.2,"d":118},{"m":118.5,"d":105.6},{"m":114.9,"d":99.7},{"m":118,"d":100.3},{"m":112.2,"d":95.3},{"m":101.9,"d":85},{"m":100,"d":94.7},{"m":99.6,"d":103.7},{"m":96.5,"d":89.7},{"m":72.9,"d":39.9},{"m":85.4,"d":93.7},{"m":80.1,"d":90.7},{"m":80.8,"d":68.4},{"m":88.2,"d":74.8},{"m":89.5,"d":80.7},{"m":69.3,"d":76.4},{"m":73,"d":84.7},{"m":56.1,"d":47.5},{"m":61.3,"d":52.2},{"m":51.4,"d":43.5},{"m":41,"d":30.9}
 ]
},
"vconcat": [
 {"hconcat": [
  {
   "title": {"text": "(a) Choice probabilities: coarsened", "offset": 34, "dx": -8},
   "width": 439, "height": 288,
   "data": {"values": [
    {"category": "Introduced grasses", "series": "Data", "share": 0.240},
    {"category": "Introduced grasses", "series": "Model", "share": 0.226},
    {"category": "Native grasses", "series": "Data", "share": 0.267},
    {"category": "Native grasses", "series": "Model", "share": 0.270},
    {"category": "Trees", "series": "Data", "share": 0.0763},
    {"category": "Trees", "series": "Model", "share": 0.079},
    {"category": "Habitat", "series": "Data", "share": 0.072},
    {"category": "Habitat", "series": "Model", "share": 0.0686},
    {"category": "Rare habitat", "series": "Data", "share": 0.0825},
    {"category": "Rare habitat", "series": "Model", "share": 0.0759},
    {"category": "Food plot", "series": "Data", "share": 0.0978},
    {"category": "Food plot", "series": "Model", "share": 0.1066},
    {"category": "Pollinator habitat", "series": "Data", "share": 0.1558},
    {"category": "Pollinator habitat", "series": "Model", "share": 0.1712}
   ]},
   "mark": {"type": "bar", "stroke": "#8a8a8a", "strokeWidth": 1},
   "encoding": {
    "x": {"field": "category", "type": "nominal", "sort": ["Introduced grasses","Native grasses","Trees","Habitat","Rare habitat","Food plot","Pollinator habitat"], "scale": {"paddingInner": 0.267, "paddingOuter": 0.28}, "axis": {"title": null, "labelAngle": 0, "labelExpr": "split(datum.label, ' ')", "ticks": false, "labelFontSize": 12.5, "labelLineHeight": 13.5, "labelPadding": 3, "labelBaseline": "top"}},
    "xOffset": {"field": "series", "type": "nominal", "scale": {"paddingInner": 0, "paddingOuter": 0}},
    "y": {"field": "share", "type": "quantitative", "scale": {"domain": [0, 0.3153], "nice": false}, "axis": {"values": [0, 0.1, 0.2, 0.3], "labelExpr": "datum.value == 0 ? '0' : replace(format(datum.value, '.2~f'), '0.', '.')", "title": "Market share", "titleFontSize": 12.5, "labelFontSize": 13, "labelAngle": 270, "labelPadding": 3, "tickSize": 5, "grid": true, "titlePadding": 3}},
    "color": {"field": "series", "type": "nominal", "scale": {"domain": ["Data", "Model"], "range": ["#bfa19a", "#3e627a"]}, "legend": {"orient": "none", "legendX": 119, "legendY": 321, "direction": "horizontal", "title": null, "strokeColor": "#000000", "fillColor": "#ffffff", "padding": 3, "symbolType": "M-1.8,-0.5H1.8V0.5H-1.8Z", "symbolSize": 676, "symbolStrokeColor": "#8a8a8a", "symbolStrokeWidth": 1, "symbolOpacity": 1, "labelFontSize": 12.5, "labelOffset": 18, "symbolOffset": 13, "columnPadding": 18}}
   }
  },
  {
   "title": {"text": "(b) Choice probabilities: all 36 contracts", "offset": 28, "dx": -15},
   "width": 481, "height": 330,
   "data": {"values": [
    {"contract": 1, "series": "Data", "share": 0.1338},{"contract": 1, "series": "Model", "share": 0.0889},
    {"contract": 2, "series": "Data", "share": 0.1059},{"contract": 2, "series": "Model", "share": 0.1361},
    {"contract": 3, "series": "Data", "share": 0.0664},{"contract": 3, "series": "Model", "share": 0.1013},
    {"contract": 4, "series": "Data", "share": 0.2},{"contract": 4, "series": "Model", "share": 0.168},
    {"contract": 5, "series": "Data", "share": 0.0244},{"contract": 5, "series": "Model", "share": 0.0066},
    {"contract": 6, "series": "Data", "share": 0.0151},{"contract": 6, "series": "Model", "share": 0.0238},
    {"contract": 7, "series": "Data", "share": 0.0093},{"contract": 7, "series": "Model", "share": 0.0081},
    {"contract": 8, "series": "Data", "share": 0.0019},{"contract": 8, "series": "Model", "share": 0.0103},
    {"contract": 9, "series": "Data", "share": 0.0244},{"contract": 9, "series": "Model", "share": 0.0287},
    {"contract": 10, "series": "Data", "share": 0.0312},{"contract": 10, "series": "Model", "share": 0.0298},
    {"contract": 11, "series": "Data", "share": 0.0403},{"contract": 11, "series": "Model", "share": 0.0387},
    {"contract": 12, "series": "Data", "share": 0.0823},{"contract": 12, "series": "Model", "share": 0.0761},
    {"contract": 13, "series": "Data", "share": 0.0155},{"contract": 13, "series": "Model", "share": 0.0147},
    {"contract": 14, "series": "Data", "share": 0.0234},{"contract": 14, "series": "Model", "share": 0.0242},
    {"contract": 15, "series": "Data", "share": 0.0037},{"contract": 15, "series": "Model", "share": 0.0112},
    {"contract": 16, "series": "Data", "share": 0.0238},{"contract": 16, "series": "Model", "share": 0.024},
    {"contract": 17, "series": "Data", "share": 0.0019},{"contract": 17, "series": "Model", "share": 0.0},
    {"contract": 18, "series": "Data", "share": 0.0025},{"contract": 18, "series": "Model", "share": 0.0031},
    {"contract": 19, "series": "Data", "share": 0.0002},{"contract": 19, "series": "Model", "share": 0.0002},
    {"contract": 20, "series": "Data", "share": 0.0001},{"contract": 20, "series": "Model", "share": 0.0004},
    {"contract": 21, "series": "Data", "share": 0.0027},{"contract": 21, "series": "Model", "share": 0.0048},
    {"contract": 22, "series": "Data", "share": 0.005},{"contract": 22, "series": "Model", "share": 0.0019},
    {"contract": 23, "series": "Data", "share": 0.0062},{"contract": 23, "series": "Model", "share": 0.0031},
    {"contract": 24, "series": "Data", "share": 0.0091},{"contract": 24, "series": "Model", "share": 0.0122},
    {"contract": 25, "series": "Data", "share": 0.0091},{"contract": 25, "series": "Model", "share": 0.0149},
    {"contract": 26, "series": "Data", "share": 0.0228},{"contract": 26, "series": "Model", "share": 0.037},
    {"contract": 27, "series": "Data", "share": 0.0112},{"contract": 27, "series": "Model", "share": 0.0194},
    {"contract": 28, "series": "Data", "share": 0.0633},{"contract": 28, "series": "Model", "share": 0.0451},
    {"contract": 29, "series": "Data", "share": 0.0002},{"contract": 29, "series": "Model", "share": 0.0002},
    {"contract": 30, "series": "Data", "share": 0.0002},{"contract": 30, "series": "Model", "share": 0.0058},
    {"contract": 31, "series": "Data", "share": 0.0},{"contract": 31, "series": "Model", "share": 0.0004},
    {"contract": 32, "series": "Data", "share": 0.0},{"contract": 32, "series": "Model", "share": 0.0012},
    {"contract": 33, "series": "Data", "share": 0.0012},{"contract": 33, "series": "Model", "share": 0.0077},
    {"contract": 34, "series": "Data", "share": 0.0},{"contract": 34, "series": "Model", "share": 0.0043},
    {"contract": 35, "series": "Data", "share": 0.0168},{"contract": 35, "series": "Model", "share": 0.0068},
    {"contract": 36, "series": "Data", "share": 0.0275},{"contract": 36, "series": "Model", "share": 0.0221}
   ]},
   "mark": {"type": "bar", "stroke": "#8a8a8a", "strokeWidth": 0.8},
   "encoding": {
    "x": {"field": "contract", "type": "ordinal", "scale": {"paddingInner": 0.2, "paddingOuter": 0.54}, "axis": {"title": null, "labelAngle": 0, "ticks": false, "labelFontSize": 7, "labelPadding": 3}},
    "xOffset": {"field": "series", "type": "nominal", "scale": {"paddingInner": 0, "paddingOuter": 0}},
    "y": {"field": "share", "type": "quantitative", "scale": {"domain": [0, 0.2043], "nice": false}, "axis": {"values": [0, 0.05, 0.1, 0.15, 0.2], "labelExpr": "datum.value == 0 ? '0' : replace(format(datum.value, '.2~f'), '0.', '.')", "title": "Market share", "titleFontSize": 6.5, "labelFontSize": 6, "labelAngle": 270, "labelPadding": 3, "tickSize": 3, "grid": true, "titlePadding": 4}},
    "color": {"field": "series", "type": "nominal", "scale": {"domain": ["Data", "Model"], "range": ["#bfa19a", "#3e627a"]}, "legend": {"orient": "none", "legendX": 181, "legendY": 343, "direction": "horizontal", "title": null, "strokeColor": "#000000", "fillColor": "#ffffff", "padding": 1.5, "symbolType": "M-2,-0.5H2V0.5H-2Z", "symbolSize": 144, "symbolStrokeColor": "#8a8a8a", "symbolStrokeWidth": 0.8, "symbolOpacity": 1, "labelFontSize": 6.5, "labelOffset": 12, "symbolOffset": 6, "columnPadding": 24}}
   }
  }
 ], "spacing": 107,
 "resolve": {"scale": {"color": "independent", "xOffset": "independent"}, "legend": {"color": "independent"}}},
 {"hconcat": [
  {
   "title": {"text": "(c) Bids", "offset": 25, "dx": -20},
   "width": 462, "height": 317,
   "layer": [
    {"data": {"name": "bids"}, "mark": {"type": "circle", "size": 14, "color": "#3e627a", "opacity": 1},
     "encoding": {
      "x": {"field": "m", "type": "quantitative", "scale": {"domain": [-5.6, 305.4], "nice": false, "zero": false}, "axis": {"values": [0, 100, 200, 300], "title": "Model (bid)", "titleFontSize": 13, "labelFontSize": 13, "tickSize": 5, "grid": false, "labelPadding": 3, "titlePadding": 3}},
      "y": {"field": "d", "type": "quantitative", "scale": {"domain": [-7.7, 308.6], "nice": false, "zero": false}, "axis": {"values": [0, 100, 200, 300], "title": "Data (bid)", "titleFontSize": 13, "labelFontSize": 13, "labelAngle": 270, "tickSize": 5, "grid": false, "labelPadding": 4, "titlePadding": 4}}
     }},
    {"data": {"values": [{"m": 11.5, "d": 11.5}, {"m": 266.5, "d": 266.5}]}, "mark": {"type": "line", "color": "#808080", "strokeWidth": 2.2},
     "encoding": {"x": {"field": "m", "type": "quantitative"}, "y": {"field": "d", "type": "quantitative"}}}
   ]
  },
  {
   "title": {"text": "(d) Scores", "offset": 25, "dx": -14},
   "width": 445, "height": 318,
   "layer": [
    {"data": {"name": "scores"}, "mark": {"type": "circle", "size": 15, "color": "#3e627a", "opacity": 1},
     "encoding": {
      "x": {"field": "m", "type": "quantitative", "scale": {"domain": [94.2, 406.5], "nice": false, "zero": false}, "axis": {"values": [100, 200, 300, 400], "title": "Model (score)", "titleFontSize": 13, "labelFontSize": 13, "tickSize": 5, "grid": false, "labelPadding": 3, "titlePadding": 3}},
      "y": {"field": "d", "type": "quantitative", "scale": {"domain": [91.6, 408], "nice": false, "zero": false}, "axis": {"values": [100, 200, 300, 400], "title": "Data (score)", "titleFontSize": 13, "labelFontSize": 13, "labelAngle": 270, "tickSize": 5, "grid": false, "labelPadding": 4, "titlePadding": 4}}
     }},
    {"data": {"values": [{"m": 120, "d": 120}, {"m": 393, "d": 393}]}, "mark": {"type": "line", "color": "#808080", "strokeWidth": 2.2},
     "encoding": {"x": {"field": "m", "type": "quantitative"}, "y": {"field": "d", "type": "quantitative"}}}
   ]
  }
 ], "spacing": 83}
],
"spacing": 40
}
